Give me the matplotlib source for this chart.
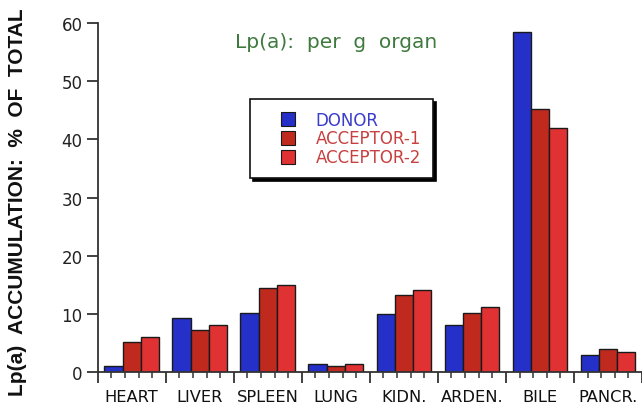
import matplotlib
matplotlib.use("Agg")
import matplotlib.pyplot as plt
from matplotlib.lines import Line2D
import numpy as np

categories = ["HEART", "LIVER", "SPLEEN", "LUNG", "KIDN.", "ARDEN.", "BILE", "PANCR."]
donor = [1.1, 9.2, 10.1, 1.4, 9.9, 8.0, 58.5, 3.0]
acceptor1 = [5.2, 7.2, 14.5, 1.0, 13.3, 10.1, 45.2, 3.9]
acceptor2 = [6.0, 8.1, 15.0, 1.3, 14.1, 11.1, 42.0, 3.5]
series_names = ["DONOR", "ACCEPTOR-1", "ACCEPTOR-2"]
yticks = [0, 10, 20, 30, 40, 50, 60]

colors = ["#2430c8", "#c02a1e", "#e03232"]
text_colors = ["#3a3ccc", "#c84040", "#c84040"]

W, H = 642, 406
fig = plt.figure(figsize=(W / 100, H / 100), dpi=100)
ax = fig.add_axes([97.7 / W, 1 - 373 / H, 1 - 97.7 / W, (373 - 24) / H])

n = len(categories)
x = np.arange(n) + 0.5
bw = 0.268
for k, (vals, c) in enumerate(zip([donor, acceptor1, acceptor2], colors)):
    ax.bar(x + (k - 1) * bw, vals, width=bw, color=c, edgecolor="#1a1a1a",
           linewidth=1.0, zorder=2)

ax.set_ylim(0, 60)
ax.set_xlim(0, (W - 97.7) / 68.6)
ax.set_yticks(yticks)
ax.set_yticklabels([str(v) for v in yticks], fontsize=12, color="#222222",
                   family="DejaVu Sans")

ax.set_xticks(np.arange(0, n + 1))
ax.set_xticklabels([])
minor = [i + f for i in range(n) for f in (0.2, 0.4, 0.6, 0.8)]
ax.set_xticks(minor, minor=True)
ax.tick_params(axis="x", which="major", direction="out", length=8, width=1.3,
               color="#333333")
ax.tick_params(axis="x", which="minor", direction="out", length=4, width=1.1,
               color="#333333")
ax.tick_params(axis="y", which="major", direction="out", length=8, width=1.3,
               color="#333333", pad=3)

for s in ["top", "right"]:
    ax.spines[s].set_visible(False)
for s in ["left", "bottom"]:
    ax.spines[s].set_linewidth(1.3)
    ax.spines[s].set_color("#333333")

sec = ax.secondary_xaxis("bottom")
sec.set_xticks(x)
sec.set_xticklabels(categories, fontsize=11.7, color="#111111", family="DejaVu Sans")
sec.tick_params(length=0, pad=12)
sec.spines["bottom"].set_visible(False)

fig.text(18 / W, 1 - 202.5 / H, "Lp(a)  ACCUMULATION:  %  OF  TOTAL",
         rotation=90, ha="center", va="center", fontsize=15,
         family="Liberation Sans", fontweight="bold", color="#111111")

fig.text(336 / W, 1 - 42 / H, "Lp(a):  per  g  organ", ha="center", va="center",
         fontsize=14.5, family="DejaVu Sans", color="#3e7a3e")

handles = [Line2D([], [], linestyle="none", marker="s", markersize=9.5,
                  markerfacecolor=c, markeredgecolor="#1a1a1a", markeredgewidth=0.8)
           for c in colors]
leg = ax.legend(handles, series_names, loc="upper left",
                bbox_to_anchor=(250 / W, 1 - 100 / H),
                bbox_transform=fig.transFigure, borderaxespad=0,
                fancybox=False, shadow={"color": "black", "alpha": 1},
                edgecolor="#111111", framealpha=1,
                prop={"family": "DejaVu Sans", "size": 12},
                handlelength=3.1, handletextpad=0.15, borderpad=0.7,
                labelspacing=0.05)
leg.get_frame().set_linewidth(1.2)
for t, c in zip(leg.get_texts(), text_colors):
    t.set_color(c)

fig.savefig("out.png", dpi=100)
